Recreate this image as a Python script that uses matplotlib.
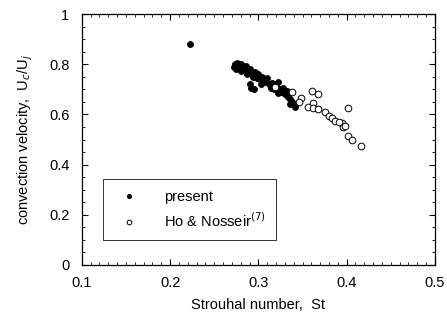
import matplotlib
matplotlib.use("Agg")
import matplotlib.pyplot as plt
from matplotlib.ticker import MultipleLocator

plt.rcParams['font.family'] = ['Liberation Sans', 'DejaVu Sans']

# present data (filled circles)
st_present = [0.223,
              0.272, 0.274, 0.276, 0.278, 0.275, 0.280, 0.282, 0.280, 0.284, 0.286,
              0.288, 0.290, 0.287, 0.292, 0.294, 0.296, 0.290, 0.292, 0.295, 0.298,
              0.300, 0.302, 0.304, 0.306, 0.303, 0.308, 0.310, 0.312, 0.314, 0.316,
              0.318, 0.320, 0.322, 0.324, 0.326, 0.322, 0.328, 0.330, 0.332, 0.334,
              0.336, 0.338, 0.340, 0.342, 0.336]
uc_present = [0.881,
              0.790, 0.800, 0.805, 0.795, 0.780, 0.800, 0.790, 0.775, 0.780, 0.795,
              0.770, 0.780, 0.760, 0.765, 0.750, 0.770, 0.720, 0.705, 0.700, 0.745,
              0.760, 0.740, 0.750, 0.730, 0.720, 0.735, 0.745, 0.720, 0.705, 0.725,
              0.700, 0.715, 0.730, 0.700, 0.690, 0.685, 0.705, 0.680, 0.695, 0.670,
              0.660, 0.650, 0.640, 0.630, 0.640]

# Ho & Nosseir (open circles)
st_ho = [0.361, 0.367, 0.348, 0.346, 0.362, 0.356, 0.362, 0.367, 0.375, 0.380,
         0.383, 0.401, 0.387, 0.395, 0.396, 0.398, 0.401, 0.406, 0.416, 0.338,
         0.319, 0.391]
uc_ho = [0.693, 0.681, 0.665, 0.649, 0.645, 0.629, 0.625, 0.622, 0.610, 0.594,
         0.586, 0.625, 0.574, 0.566, 0.550, 0.554, 0.514, 0.498, 0.474, 0.690,
         0.709, 0.570]

fig = plt.figure(figsize=(4.47, 3.2), dpi=100)
ax = fig.add_axes([0.183, 0.172, 0.79, 0.784])

ax.plot(st_present, uc_present, 'o', color='black', markersize=4.3,
        markeredgewidth=0.6, label='present')
ax.plot(st_ho, uc_ho, 'o', markerfacecolor='white', markeredgecolor='black',
        markersize=4.8, markeredgewidth=0.7, label='Ho & Nosseir$^{(7)}$')

ax.set_xlim(0.1, 0.5)
ax.set_ylim(0, 1)
ax.xaxis.set_major_locator(MultipleLocator(0.1))
ax.xaxis.set_minor_locator(MultipleLocator(0.01))
ax.yaxis.set_major_locator(MultipleLocator(0.2))
ax.yaxis.set_minor_locator(MultipleLocator(0.05))
ax.xaxis.set_major_formatter(plt.FuncFormatter(lambda v, p: f'{v:.1f}'))
ax.yaxis.set_major_formatter(plt.FuncFormatter(
    lambda v, p: '0' if abs(v) < 1e-9 else ('1' if abs(v - 1) < 1e-9 else f'{v:.1f}')))
ax.tick_params(which='both', direction='in', top=True, right=True, labelsize=10.5)
ax.tick_params(which='major', length=4, width=0.8)
ax.tick_params(which='minor', length=2, width=0.6)
ax.tick_params(axis='x', pad=8)
ax.tick_params(axis='y', pad=9)
for s in ax.spines.values():
    s.set_linewidth(0.9)

ax.set_xlabel('Strouhal number,  St', fontsize=10.5, labelpad=6)
ax.set_ylabel('convection velocity,  U$_c$/U$_j$', fontsize=10.5, labelpad=10)

leg = ax.legend(loc='lower left', bbox_to_anchor=(0.06, 0.1), fontsize=10.5,
                frameon=True, fancybox=False, edgecolor='black', markerscale=0.7,
                handlelength=2.2, handletextpad=1.3, borderpad=0.7, labelspacing=0.5,
                borderaxespad=0)
leg.get_frame().set_linewidth(0.7)
leg._legend_box.align = 'left'

fig.savefig('out.png', dpi=100)
